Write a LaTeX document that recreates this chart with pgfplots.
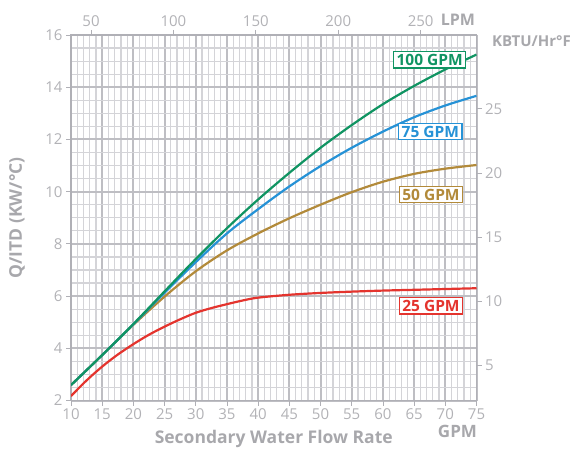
\documentclass[border=0pt]{standalone}
\usepackage{fontspec}
\setmainfont{Open Sans}
\usepackage{pgfplots}
\pgfplotsset{compat=1.18}
\usetikzlibrary{calc}
\definecolor{cgreen}{RGB}{16,148,98}
\definecolor{cblue}{RGB}{38,146,214}
\definecolor{cgold}{RGB}{178,138,58}
\definecolor{cred}{RGB}{228,52,46}
\definecolor{gtext}{RGB}{178,178,182}
\definecolor{glab}{RGB}{168,168,172}
\definecolor{gmaj}{RGB}{190,190,195}
\definecolor{gmin}{RGB}{212,212,216}
\definecolor{gaxis}{RGB}{176,176,182}
\begin{document}
\begin{tikzpicture}
\begin{axis}[name=main, scale only axis, width=405.5pt, height=365.5pt,
  xmin=10, xmax=75, ymin=2, ymax=16,
  xtick={10,15,20,25,30,35,40,45,50,55,60,65,70,75},
  minor xtick={11,12,13,14,16,17,18,19,21,22,23,24,26,27,28,29,31,32,33,34,36,37,38,39,41,42,43,44,46,47,48,49,51,52,53,54,56,57,58,59,61,62,63,64,66,67,68,69,71,72,73,74},
  ytick={2,4,6,8,10,12,14,16},
  minor ytick={2.5,3,3.5,4.5,5,5.5,6.5,7,7.5,8.5,9,9.5,10.5,11,11.5,12.5,13,13.5,14.5,15,15.5},
  xtick pos=bottom, ytick pos=left,
  grid=both,
  major grid style={color=gmaj, line width=2pt},
  minor grid style={color=gmin, line width=1.2pt},
  axis line style={color=gaxis, line width=1.8pt},
  tick align=outside, major tick length=5pt, minor tick length=0pt,
  tick style={color=gaxis, line width=0.8pt},
  tick label style={font=\fontsize{15}{15}\selectfont, text=gtext},
  /pgf/number format/assume math mode=true,
]
\addplot[cred, line width=2.2pt, smooth] coordinates {
(10,2.17) (12.5,2.77) (15,3.3) (17.5,3.76) (20,4.16) (22.5,4.52) (25,4.83) (27.5,5.11) (30,5.36) (32.5,5.54) (35,5.69) (37.5,5.83) (40,5.94) (45,6.05) (50,6.12) (55,6.17) (60,6.21) (65,6.24) (70,6.27) (75,6.3)};
\addplot[cgold, line width=2.2pt, smooth] coordinates {
(10,2.59) (15,3.74) (20,4.9) (25,5.98) (30,6.95) (35,7.75) (40,8.4) (45,8.98) (50,9.5) (55,9.98) (60,10.38) (65,10.68) (70,10.88) (75,11.02)};
\addplot[cblue, line width=2.2pt, smooth] coordinates {
(10,2.59) (15,3.74) (20,4.92) (25,6.13) (30,7.3) (35,8.4) (40,9.33) (45,10.2) (50,10.98) (55,11.68) (60,12.3) (65,12.85) (70,13.3) (75,13.67)};
\addplot[cgreen, line width=2.2pt, smooth] coordinates {
(10,2.59) (15,3.74) (20,4.93) (25,6.18) (30,7.42) (35,8.6) (40,9.7) (45,10.72) (50,11.68) (55,12.55) (60,13.35) (65,14.05) (70,14.68) (75,15.25)};
\begin{scope}[every node/.style={fill=white, line width=1.2pt, inner xsep=3pt, inner ysep=2.5pt, font=\fontsize{15.5}{15.5}\selectfont\bfseries}]
\node[draw=cgreen, text=cgreen] at (axis cs:67.5,15.05) {100 GPM};
\node[draw=cblue, text=cblue] at (axis cs:67.6,12.3) {75 GPM};
\node[draw=cgold, text=cgold] at (axis cs:67.7,9.89) {50 GPM};
\node[draw=cred, text=cred] at (axis cs:67.7,5.63) {25 GPM};
\end{scope}
\end{axis}
\begin{axis}[scale only axis, width=405.5pt, height=365.5pt,
  xmin=37.85, xmax=283.875, ymin=2.227, ymax=30.77,
  xtick={50,100,150,200,250}, ytick={5,10,15,20,25},
  xtick pos=top, ytick pos=right,
  axis line style={draw=none},
  tick align=outside, major tick length=5pt,
  tick style={color=gaxis, line width=0.8pt},
  tick label style={font=\fontsize{15}{15}\selectfont, text=gtext},
  /pgf/number format/assume math mode=true,
]
\end{axis}
\node[anchor=east, text=glab, font=\fontsize{16}{16}\selectfont\bfseries] at ($(main.north east)+(2pt,15pt)$) {LPM};
\node[anchor=west, text=glab, font=\fontsize{15}{15}\selectfont\bfseries] at ($(main.north east)+(12pt,-6pt)$) {KBTU/Hr°F};
\node[anchor=east, text=glab, font=\fontsize{17}{17}\selectfont\bfseries] at ($(main.south east)+(4pt,-30.5pt)$) {GPM};
\node[text=glab, font=\fontsize{17.5}{17.5}\selectfont\bfseries] at ($(main.south)+(0,-38.5pt)$) {Secondary Water Flow Rate};
\node[rotate=90, text=glab, font=\fontsize{17.5}{17.5}\selectfont\bfseries] at ($(main.west)+(-54pt,0)$) {Q/ITD (KW/°C)};
\pgfresetboundingbox
\path[use as bounding box] ($(main.south west)+(-71pt,-51.5pt)$) rectangle ($(main.north east)+(102.5pt,35pt)$);
\end{tikzpicture}
\end{document}
